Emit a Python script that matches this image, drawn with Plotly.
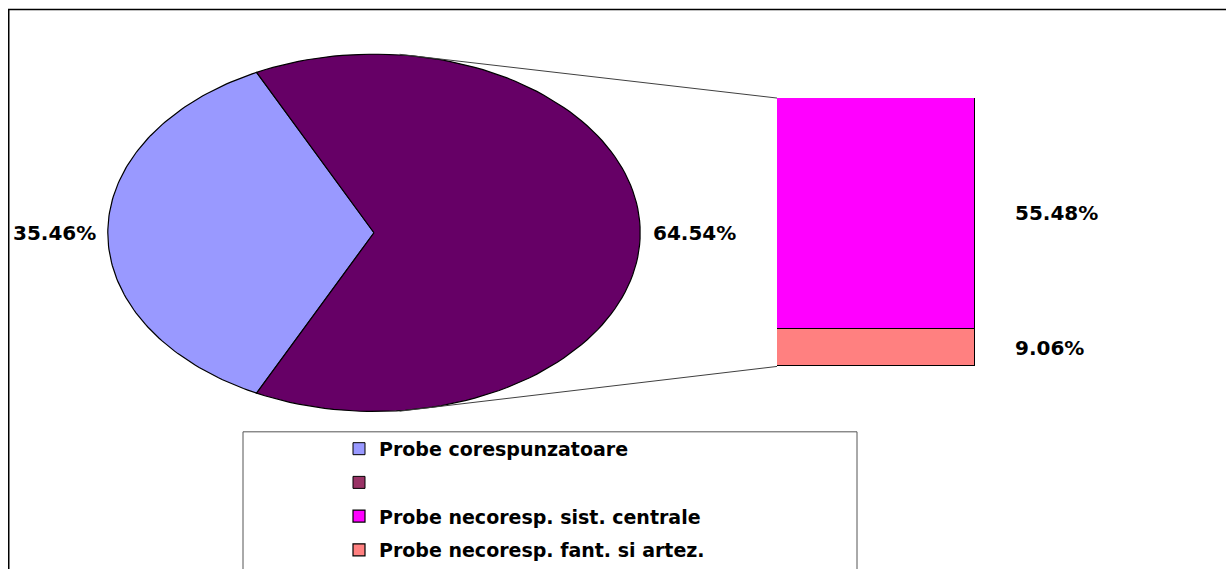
import math
import plotly.graph_objects as go

# ---------------- data ----------------
pie_labels = ["Probe corespunzatoare", ""]
pie_values = [35.46, 64.54]
bar_labels = ["Probe necoresp. fant. si artez.", "Probe necoresp. sist. centrale"]
bar_values = [9.06, 55.48]

pie_colors = ["#9999FF", "#660066"]
legend_pie_colors = ["#9999FF", "#993366"]
bar_colors = ["#FF8080", "#FF00FF"]

W, H = 1226, 569
KY = 0.96  # vertical compensation observed in the rendered picture
FONT = dict(family="DejaVu Sans", size=20, color="black", weight="bold")


def px(x):
    return x / W


def py(y):
    return 1 - (y / KY) / H


# pie (ellipse) geometry in screen pixels
PIE_L, PIE_R, PIE_T, PIE_B = 107, 641, 54, 416
BAR_L, BAR_R, BAR_T, BAR_B = 777, 975, 99, 370

fig = go.Figure()

# ---------- pie wedges drawn on a unit-circle axis that is stretched to an ellipse ----------
total = sum(pie_values)
first_span = 360.0 * pie_values[0] / total
start = 180.0 - first_span / 2.0  # first slice centred on the left
angles = [start]
for v in pie_values:
    angles.append(angles[-1] + 360.0 * v / total)

for i, v in enumerate(pie_values):
    a0, a1 = angles[i], angles[i + 1]
    n = 120
    xs, ys = [0.0], [0.0]
    for k in range(n + 1):
        a = math.radians(a0 + (a1 - a0) * k / n)
        xs.append(math.cos(a))
        ys.append(math.sin(a))
    xs.append(0.0)
    ys.append(0.0)
    fig.add_trace(go.Scatter(
        x=xs, y=ys, mode="lines", fill="toself", fillcolor=pie_colors[i],
        line=dict(color="black", width=1.2), showlegend=False, hoverinfo="skip",
        xaxis="x", yaxis="y"))

# legend proxies for the pie slices
for i, name in enumerate(pie_labels):
    fig.add_trace(go.Bar(
        x=[0], y=[None], name=name if name else " ",
        marker=dict(color=legend_pie_colors[i], line=dict(color="black", width=1)),
        xaxis="x2", yaxis="y2", legendrank=i + 1, legendgroup="g%d" % i, showlegend=True))

# ---------- stacked bar ----------
for i, v in enumerate(bar_values):
    fig.add_trace(go.Bar(
        x=[0], y=[v], name=bar_labels[i], width=1,
        marker=dict(color=bar_colors[i], line=dict(color="black", width=1.2)),
        xaxis="x2", yaxis="y2", legendrank=4 - i, legendgroup="b%d" % i,
        hoverinfo="skip"))

bar_total = sum(bar_values)

# ---------- labels ----------
annotations = []
annotations.append(dict(x=px(PIE_L - 9), y=0, xref="paper", yref="y", text="%.2f%%" % pie_values[0],
                        showarrow=False, xanchor="right", yanchor="middle", font=FONT))
annotations.append(dict(x=px(PIE_R + 10), y=0, xref="paper", yref="y", text="%.2f%%" % pie_values[1],
                        showarrow=False, xanchor="left", yanchor="middle", font=FONT))
cum = 0
for i, v in enumerate(bar_values):
    annotations.append(dict(x=px(BAR_R + 38), y=cum + v / 2, xref="paper", yref="y2",
                            text="%.2f%%" % v, showarrow=False, xanchor="left", yanchor="middle",
                            font=FONT))
    cum += v

# ---------- connector lines ----------
cx, cy = (PIE_L + PIE_R) / 2, (PIE_T + PIE_B) / 2
rx, ry = (PIE_R - PIE_L) / 2, (PIE_B - PIE_T) / 2
conn_angle = math.radians(84.5)
top_pt = (cx + rx * math.cos(conn_angle), cy - ry * math.sin(conn_angle))
bot_pt = (cx + rx * math.cos(conn_angle), cy + ry * math.sin(conn_angle))
shapes = [
    dict(type="line", xref="paper", yref="paper", x0=px(top_pt[0]), y0=py(top_pt[1]),
         x1=px(BAR_L), y1=py(BAR_T), line=dict(color="#404040", width=1)),
    dict(type="line", xref="paper", yref="paper", x0=px(bot_pt[0]), y0=py(bot_pt[1]),
         x1=px(BAR_L), y1=py(BAR_B), line=dict(color="#404040", width=1)),
    # chart frame
    dict(type="rect", xref="paper", yref="paper", x0=px(8.75), y0=py(9.5), x1=px(1260), y1=py(620),
         line=dict(color="black", width=1.5), layer="below"),
    # legend frame
    dict(type="rect", xref="paper", yref="paper", x0=px(243), y0=py(436), x1=px(857), y1=py(620),
         line=dict(color="#555555", width=1), layer="below"),
]

fig.update_layout(
    width=W, height=H,
    margin=dict(l=0, r=0, t=0, b=0),
    paper_bgcolor="white", plot_bgcolor="rgba(0,0,0,0)",
    barmode="stack", bargap=0,
    showlegend=True,
    legend=dict(x=px(339), y=py(434), xanchor="left", yanchor="top",
                font=dict(family="DejaVu Sans", size=19, color="black", weight="bold"),
                bgcolor="rgba(0,0,0,0)", borderwidth=0, tracegroupgap=6,
                traceorder="grouped", itemclick=False, itemdoubleclick=False),
    xaxis=dict(domain=[px(PIE_L), px(PIE_R)], range=[-1.003, 1.003], visible=False, fixedrange=True),
    yaxis=dict(domain=[py(PIE_B), py(PIE_T)], range=[-1.003, 1.003], visible=False, fixedrange=True),
    xaxis2=dict(domain=[px(BAR_L), px(BAR_R)], range=[-0.5, 0.5], visible=False, anchor="y2", fixedrange=True),
    yaxis2=dict(domain=[py(BAR_B), py(BAR_T)], range=[0, bar_total], visible=False, anchor="x2", fixedrange=True),
    annotations=annotations,
    shapes=shapes,
)

fig.write_html(
    "out.html",
    config=dict(displayModeBar=False),
    post_script=(
        "document.documentElement.style.margin='0';"
        "document.body.style.margin='0';document.body.style.padding='0';"
        "var gd=document.getElementById('{plot_id}');"
        "gd.style.position='fixed';gd.style.top='0px';gd.style.left='0px';"
    ),
)
